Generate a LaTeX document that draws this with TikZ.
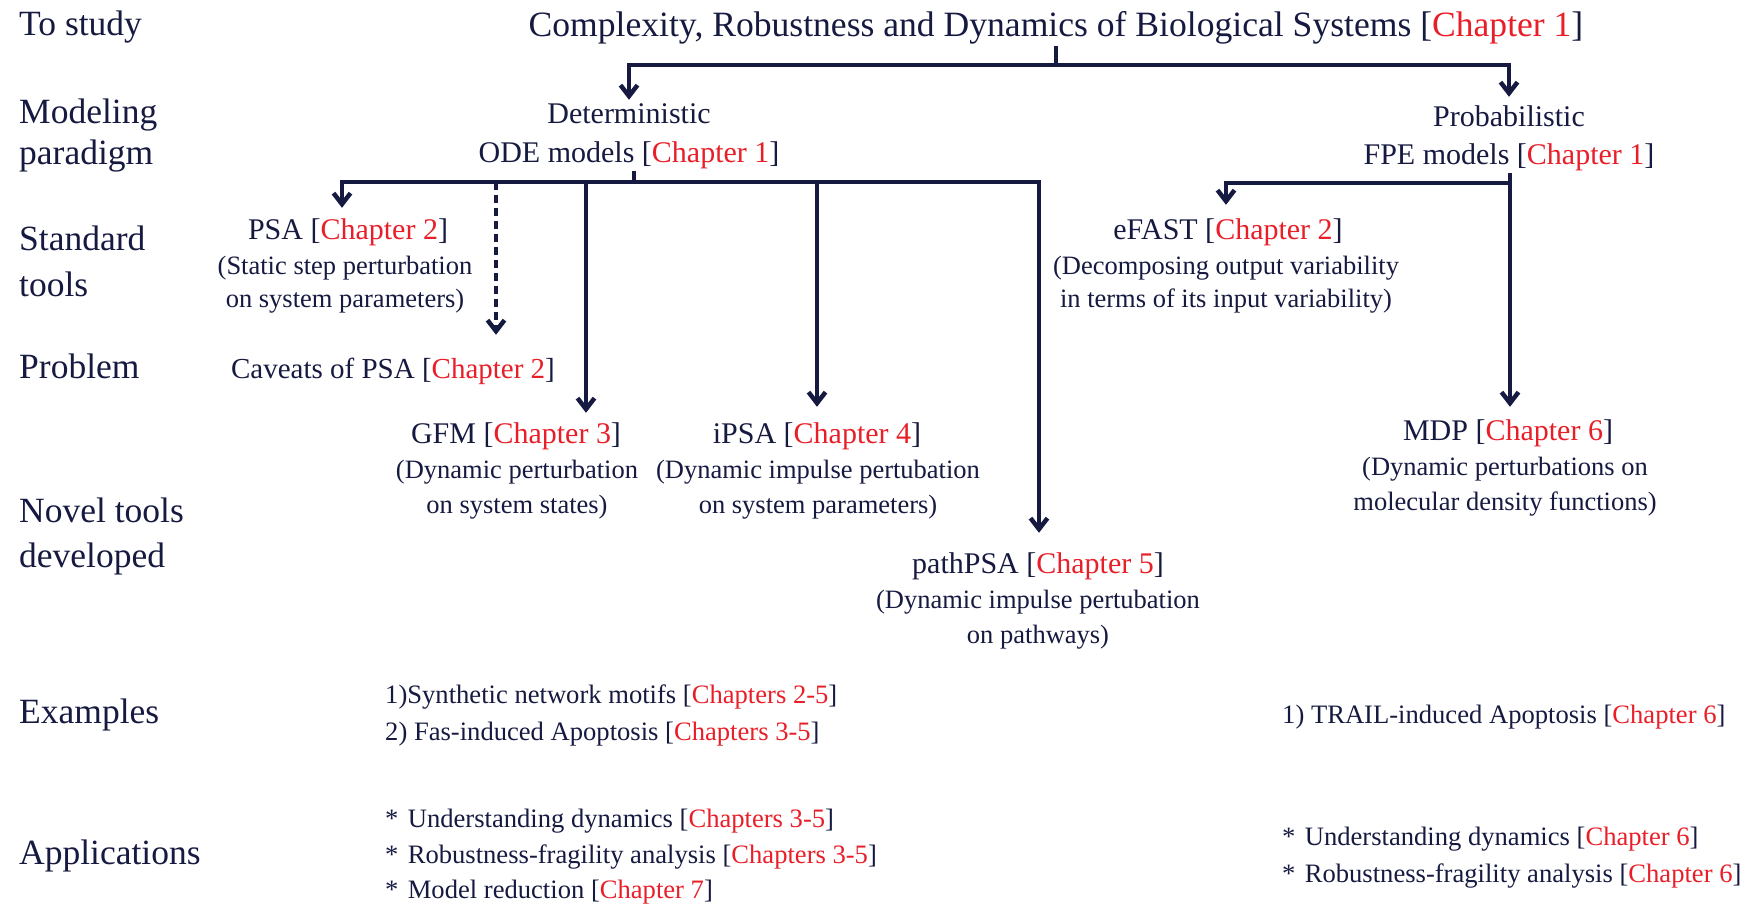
\documentclass[tikz,border=0pt]{standalone}
\usepackage{fontspec}
\setmainfont{Liberation Serif}
\usetikzlibrary{arrows.meta}
\definecolor{ink}{RGB}{22,26,64}
\definecolor{chapred}{RGB}{232,30,40}
\newcommand\chap[1]{[\textcolor{chapred}{#1}]}
\newcommand\bul{*\hspace{0.35em}}
\begin{document}
\begin{tikzpicture}[x=1pt,y=-1pt,
  every node/.style={text=ink},
  labtxt/.style={font=\fontsize{35.5}{40}\selectfont, anchor=base west, inner sep=0pt},
  ttltxt/.style={font=\fontsize{35.6}{40}\selectfont, anchor=base, inner sep=0pt, text depth=9pt},
  headtxt/.style={font=\fontsize{30}{36}\selectfont, anchor=base, inner xsep=0pt,
    inner ysep=#1, text height=22pt, text depth=8pt},
  headtxt/.default=0pt,
  desctxt/.style={font=\fontsize{26.5}{32}\selectfont, anchor=base, inner sep=0pt},
  itemtxt/.style={font=\fontsize{26.6}{32}\selectfont, anchor=base west, inner sep=0pt},
  wire/.style={draw=ink, line width=4.5pt},
  arr/.style={wire, -{Straight Barb[length=11pt,width=17pt]}},
]
\useasboundingbox (0,0) rectangle (1749,904);

% row labels
\node[labtxt] (l1)  at (19,36)  {To study};
\node[labtxt] (l2a) at (19,124) {Modeling};
\node[labtxt] (l2b) at (19,165) {paradigm};
\node[labtxt] (l3a) at (19,251) {Standard};
\node[labtxt] (l3b) at (19,296) {tools};
\node[labtxt] (l4)  at (19,378) {Problem};
\node[labtxt] (l5a) at (19,522) {Novel tools};
\node[labtxt] (l5b) at (19,567) {developed};
\node[labtxt] (l6)  at (19,723) {Examples};
\node[labtxt] (l7)  at (19,864) {Applications};

% tree nodes
\node[ttltxt] (title) at (1056,37) {Complexity, Robustness and Dynamics of Biological Systems \chap{Chapter 1}};
\node[headtxt=2pt] (det) at (629,124) {Deterministic};
\node[headtxt] (ode) at (629,163) {ODE models \chap{Chapter 1}};
\node[headtxt=8pt] (prob) at (1509,127) {Probabilistic};
\node[headtxt] (fpe) at (1509,165) {FPE models \chap{Chapter 1}};

\node[headtxt=10pt] (psa) at (348,240) {PSA \chap{Chapter 2}};
\node[desctxt] (psa1) at (345,275) {(Static step perturbation};
\node[desctxt] (psa2) at (345,308) {on system parameters)};

\node[headtxt=21pt, font=\fontsize{29}{36}\selectfont] (cav) at (393,378) {Caveats of PSA \chap{Chapter 2}};

\node[headtxt=8pt] (gfm) at (516,443) {GFM \chap{Chapter 3}};
\node[desctxt] (gfm1) at (517,478) {(Dynamic perturbation};
\node[desctxt] (gfm2) at (517,513) {on system states)};

\node[headtxt=14pt] (ipsa) at (817,443) {iPSA \chap{Chapter 4}};
\node[desctxt] (ipsa1) at (818,478) {(Dynamic impulse pertubation};
\node[desctxt] (ipsa2) at (818,513) {on system parameters)};

\node[headtxt=18pt] (path) at (1038,573) {pathPSA \chap{Chapter 5}};
\node[desctxt] (path1) at (1038,608) {(Dynamic impulse pertubation};
\node[desctxt] (path2) at (1038,643) {on pathways)};

\node[headtxt=13pt] (efast) at (1228,240) {eFAST \chap{Chapter 2}};
\node[desctxt] (efast1) at (1226,275) {(Decomposing output variability};
\node[desctxt] (efast2) at (1226,308) {in terms of its input variability)};

\node[headtxt=11pt] (mdp) at (1508,440) {MDP \chap{Chapter 6}};
\node[desctxt] (mdp1) at (1505,475) {(Dynamic perturbations on};
\node[desctxt] (mdp2) at (1505,510) {molecular density functions)};

% examples and applications
\node[itemtxt] (ex1) at (385,703) {1)Synthetic network motifs \chap{Chapters 2-5}};
\node[itemtxt] (ex2) at (385,740) {2) Fas-induced Apoptosis \chap{Chapters 3-5}};
\node[itemtxt] (ap1) at (385,827) {\bul Understanding dynamics \chap{Chapters 3-5}};
\node[itemtxt] (ap2) at (385,863) {\bul Robustness-fragility analysis \chap{Chapters 3-5}};
\node[itemtxt] (ap3) at (385,898) {\bul Model reduction \chap{Chapter 7}};
\node[itemtxt] (ex3) at (1282,723) {1) TRAIL-induced Apoptosis \chap{Chapter 6}};
\node[itemtxt] (ap4) at (1282,845) {\bul Understanding dynamics \chap{Chapter 6}};
\node[itemtxt] (ap5) at (1282,882) {\bul Robustness-fragility analysis \chap{Chapter 6}};

% bus from the title
\coordinate (b1) at (1056,65);
\draw[arr] (title.south) -- (b1) -| (det.north);
\draw[arr] (b1) -| (prob.north);

% bus below the deterministic branch
\coordinate (b2) at (634,182);
\coordinate (tpsa) at (342,182);
\coordinate (tcav) at (496,182);
\coordinate (tgfm) at (586,182);
\coordinate (tipsa) at (817,182);
\coordinate (tpath) at (1039,182);
\draw[wire] (ode.south -| b2) -- (b2);
\draw[arr] (b2) -- (tpsa) -- (tpsa |- psa.north);
\draw[arr] (b2) -- (tpath) -- (tpath |- path.north);
\draw[arr] (tgfm) -- (tgfm |- gfm.north);
\draw[arr] (tipsa) -- (tipsa |- ipsa.north);
\draw[arr, dash pattern=on 8pt off 5pt] (tcav) -- (tcav |- cav.north);

% bus below the probabilistic branch
\coordinate (b3) at (1510,183);
\coordinate (tefast) at (1226,183);
\draw[arr] (fpe.south -| b3) -- (b3 |- mdp.north);
\draw[arr] (b3) -- (tefast) -- (tefast |- efast.north);
\end{tikzpicture}
\end{document}
